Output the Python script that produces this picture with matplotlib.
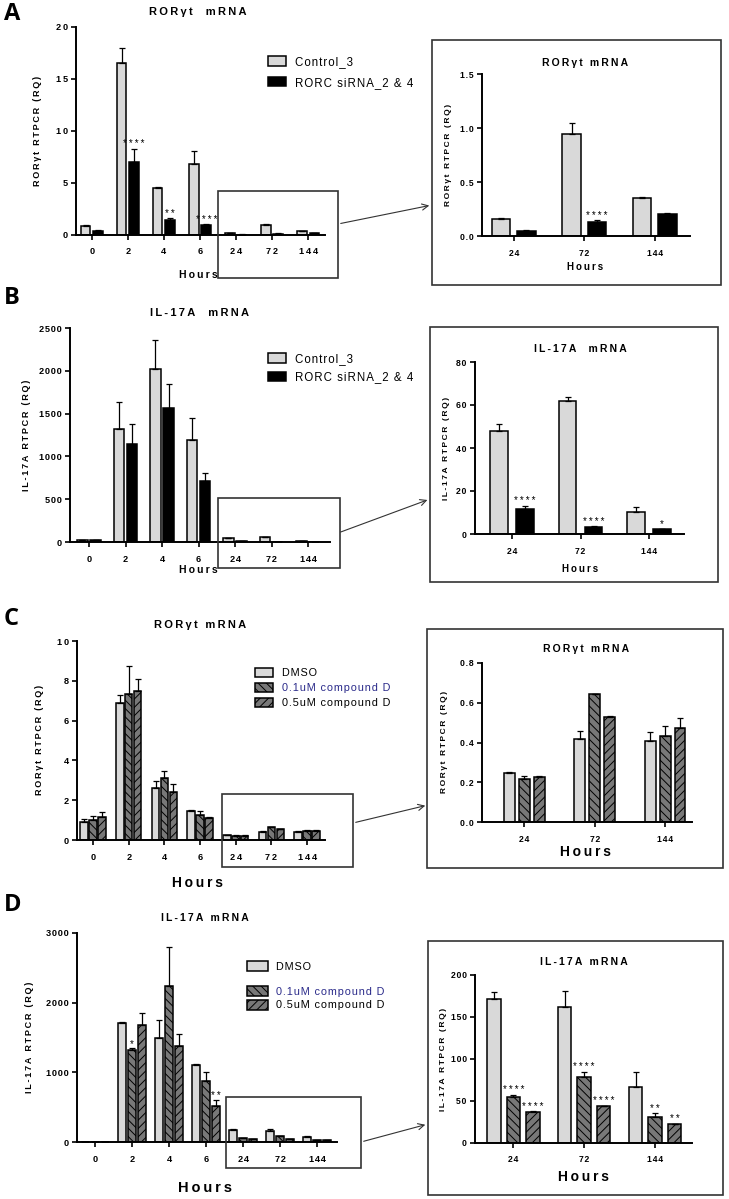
import matplotlib
matplotlib.use("Agg")
import matplotlib.pyplot as plt
import numpy as np
from matplotlib.patches import Rectangle, FancyArrowPatch

# data
hours = ['0', '2', '4', '6', '24', '72', '144']

a_ctrl = [0.85, 16.5, 4.5, 6.8, 0.16, 0.94, 0.355]
a_ctrl_err = [0.08, 1.5, 0.08, 1.3, 0.003, 0.11, 0.01]
a_sirna = [0.42, 7.0, 1.45, 1.0, 0.048, 0.13, 0.205]
a_sirna_err = [0.03, 1.3, 0.15, 0.05, 0.004, 0.015, 0.01]
a_stars = ['', '****', '**', '****', '', '****', '']

b_ctrl = [20, 1320, 2020, 1190, 48, 62, 10.2]
b_ctrl_err = [3, 320, 340, 260, 3.2, 1.6, 2.5]
b_sirna = [22, 1140, 1560, 710, 11.5, 3.3, 2.3]
b_sirna_err = [3, 235, 280, 100, 1.7, 0.3, 0.2]
b_stars = ['', '', '', '', '****', '****', '*']

c_dmso = [0.88, 6.9, 2.63, 1.46, 0.247, 0.42, 0.408]
c_dmso_err = [0.2, 0.4, 0.35, 0.07, 0.003, 0.04, 0.045]
c_low = [1.0, 7.32, 3.12, 1.24, 0.215, 0.643, 0.433]
c_low_err = [0.2, 1.43, 0.37, 0.2, 0.015, 0.003, 0.052]
c_high = [1.18, 7.5, 2.42, 1.12, 0.226, 0.528, 0.475]
c_high_err = [0.22, 0.6, 0.38, 0.03, 0.004, 0.003, 0.048]

d_dmso = [5, 1715, 1500, 1105, 171, 162, 67]
d_dmso_err = [1, 5, 250, 10, 9, 19, 18]
d_low = [3, 1320, 2245, 875, 55, 79, 31]
d_low_err = [1, 25, 550, 125, 2.5, 6, 4.5]
d_high = [4, 1680, 1385, 515, 37, 44, 22.5]
d_high_err = [1, 165, 160, 85, 0.6, 0.5, 0.5]
d_low_stars = ['', '*', '', '', '****', '****', '**']
d_high_stars = ['', '', '', '**', '****', '****', '**']
no_stars = [''] * 7

a_yticks = [0, 5, 10, 15, 20]
a_in_yticks = [0.0, 0.5, 1.0, 1.5]
b_yticks = [0, 500, 1000, 1500, 2000, 2500]
b_in_yticks = [0, 20, 40, 60, 80]
c_yticks = [0, 2, 4, 6, 8, 10]
c_in_yticks = [0.0, 0.2, 0.4, 0.6, 0.8]
d_yticks = [0, 1000, 2000, 3000]
d_in_yticks = [0, 50, 100, 150, 200]

W, H = 729, 1199
plt.rcParams['font.family'] = ['Liberation Sans', 'DejaVu Sans']
plt.rcParams['hatch.linewidth'] = 0.7

fig = plt.figure(figsize=(W / 100, H / 100), dpi=100)

THIN = '\u2009'
HAIR = '\u200a'


def sp(s, ch=THIN):
    # GraphPad style letter spacing
    return ch.join(s)


def px_ax(x0, y0, x1, y1):
    return fig.add_axes([x0 / W, 1 - y1 / H, (x1 - x0) / W, (y1 - y0) / H])


def ftext(x, y, s, **kw):
    kw.setdefault('ha', 'center')
    kw.setdefault('va', 'center')
    fig.text(x / W, 1 - y / H, s, **kw)


def frame(x0, y0, x1, y1):
    fig.add_artist(Rectangle((x0 / W, 1 - y1 / H), (x1 - x0) / W, (y1 - y0) / H,
                             transform=fig.transFigure, fill=False, lw=1.2, ec='#333333'))


def arrow(x0, y0, x1, y1):
    fig.add_artist(FancyArrowPatch((x0 / W, 1 - y0 / H), (x1 / W, 1 - y1 / H),
                                   transform=fig.transFigure, arrowstyle='->',
                                   mutation_scale=11, lw=0.8, color='#333333'))


ctrl_st = dict(color='#d9d9d9', edgecolor='black', linewidth=1.1)
sirna_st = dict(color='black', edgecolor='black', linewidth=1.1)
low_st = dict(color='#787878', edgecolor='black', linewidth=1.1, hatch='\\\\\\\\')
high_st = dict(color='#787878', edgecolor='black', linewidth=1.1, hatch='////')


def panel(ax, idx, series, errs, stars, styles, width, offsets, xlim, yticks, yfmt,
          tsize=6.6, tsp=THIN):
    x = np.arange(len(idx))
    conts = []
    for vals, err, st_list, st, off in zip(series, errs, stars, styles, offsets):
        v = np.array(vals, dtype=float)[idx]
        e = np.array(err, dtype=float)[idx]
        b = ax.bar(x + off, v, width, zorder=2, **st)
        ax.errorbar(x + off, v, yerr=[np.zeros_like(e), e], fmt='none', ecolor='black',
                    elinewidth=0.9, capsize=2.5, capthick=0.9, zorder=3)
        for xi, top, s in zip(x + off, v + e, np.array(st_list)[idx]):
            if s:
                ax.annotate(sp(s), (xi, top), xytext=(0, 1.0), textcoords='offset points',
                            ha='center', va='baseline', fontsize=7, clip_on=False)
        conts.append(b)
    ax.set_xlim(*xlim)
    ax.set_ylim(0, yticks[-1])
    ax.set_yticks(yticks, [sp(yfmt % t, tsp) for t in yticks], fontsize=tsize, fontweight='bold')
    ax.set_xticks(x, [sp(hours[i], tsp) for i in idx], fontsize=tsize, fontweight='bold')
    for s in ['top', 'right']:
        ax.spines[s].set_visible(False)
    for s in ['left', 'bottom']:
        ax.spines[s].set_linewidth(1.4)
    ax.tick_params(axis='both', direction='out', length=3.5, width=1.2)
    ax.tick_params(axis='x', pad=5.5)
    ax.tick_params(axis='y', pad=2.5)
    ax.patch.set_alpha(0)
    return conts


main_idx = [0, 1, 2, 3, 4, 5, 6]
in_idx = [4, 5, 6]
sirna_labels = ['Control_3', 'RORC siRNA_2 & 4']
comp_labels = ['DMSO', '0.1uM compound D', '0.5uM compound D']

# ---------------- A ----------------
ax = px_ax(76, 27, 325, 235)
conts = panel(ax, main_idx, [a_ctrl, a_sirna], [a_ctrl_err, a_sirna_err],
              [no_stars, a_stars[:4] + ['', '', '']], [ctrl_st, sirna_st],
              0.27, [-0.175, 0.175], (-0.44, 6.47), a_yticks, '%d')
ax.legend(conts, [sp(l, HAIR) for l in sirna_labels], loc='upper left',
          bbox_to_anchor=(268 / W, 1 - 56 / H), bbox_transform=fig.transFigure,
          frameon=False, fontsize=8.3, handlelength=1.6, handleheight=0.9,
          handletextpad=0.7, labelspacing=0.75, borderpad=0, borderaxespad=0)
ftext(198, 12, sp('RORγt  mRNA'), fontsize=8, fontweight='bold')
ftext(38, 131, sp('RORγt RTPCR (RQ)'), fontsize=6.5, fontweight='bold', rotation=90)
ftext(198, 275, sp('Hours'), fontsize=7.5, fontweight='bold')
ftext(4, 14, 'A', fontsize=17, fontweight='bold', ha='left', family='Open Sans')
frame(218, 191, 338, 278)
arrow(338, 224, 432, 205)

frame(432, 40, 721, 285)
ax = px_ax(482, 74, 690, 236)
panel(ax, in_idx, [a_ctrl, a_sirna], [a_ctrl_err, a_sirna_err],
      [no_stars, a_stars], [ctrl_st, sirna_st],
      0.26, [-0.18, 0.18], (-0.45, 2.5), a_in_yticks, '%.1f', tsize=6.2, tsp=HAIR)
ftext(585, 63, sp('RORγt mRNA'), fontsize=7.5, fontweight='bold')
ftext(449, 155, sp('RORγt RTPCR (RQ)'), fontsize=6, fontweight='bold', rotation=90)
ftext(585, 267, sp('Hours'), fontsize=7, fontweight='bold')

# ---------------- B ----------------
ax = px_ax(70, 328, 330, 542)
conts = panel(ax, main_idx, [b_ctrl, b_sirna], [b_ctrl_err, b_sirna_err],
              [no_stars, no_stars], [ctrl_st, sirna_st],
              0.29, [-0.18, 0.18], (-0.52, 6.6), b_yticks, '%d', tsp=HAIR)
ax.legend(conts, [sp(l, HAIR) for l in sirna_labels], loc='upper left',
          bbox_to_anchor=(268 / W, 1 - 353 / H), bbox_transform=fig.transFigure,
          frameon=False, fontsize=8.3, handlelength=1.6, handleheight=0.9,
          handletextpad=0.7, labelspacing=0.55, borderpad=0, borderaxespad=0)
ftext(200, 313, sp('IL-17A  mRNA'), fontsize=8, fontweight='bold')
ftext(27, 435, sp('IL-17A RTPCR (RQ)'), fontsize=6.5, fontweight='bold', rotation=90)
ftext(198, 570, sp('Hours'), fontsize=7.5, fontweight='bold')
ftext(4, 298, 'B', fontsize=17, fontweight='bold', ha='left', family='Open Sans')
frame(218, 498, 340, 568)
arrow(338, 533, 430, 499)

frame(430, 327, 718, 582)
ax = px_ax(475, 362, 684, 534)
panel(ax, in_idx, [b_ctrl, b_sirna], [b_ctrl_err, b_sirna_err],
      [no_stars, b_stars], [ctrl_st, sirna_st],
      0.26, [-0.19, 0.19], (-0.54, 2.51), b_in_yticks, '%d', tsize=6.2, tsp=HAIR)
ftext(580, 349, sp('IL-17A  mRNA'), fontsize=7.5, fontweight='bold')
ftext(446, 448, sp('IL-17A RTPCR (RQ)'), fontsize=6, fontweight='bold', rotation=90)
ftext(580, 569, sp('Hours'), fontsize=7, fontweight='bold')

# ---------------- C ----------------
ax = px_ax(77, 641, 325, 840)
conts = panel(ax, main_idx, [c_dmso, c_low, c_high], [c_dmso_err, c_low_err, c_high_err],
              [no_stars] * 3, [ctrl_st, low_st, high_st],
              0.21, [-0.25, 0, 0.25], (-0.45, 6.5), c_yticks, '%d')
leg = ax.legend(conts, [sp(l, HAIR) for l in comp_labels], loc='upper left',
                bbox_to_anchor=(255 / W, 1 - 668 / H), bbox_transform=fig.transFigure,
                frameon=False, fontsize=7.8, handlelength=1.7, handleheight=0.9,
                handletextpad=0.8, labelspacing=0.42, borderpad=0, borderaxespad=0)
leg.get_texts()[1].set_color('#2a2a8a')
ftext(200, 625, sp('RORγt mRNA'), fontsize=8, fontweight='bold')
ftext(39, 740, sp('RORγt RTPCR (RQ)'), fontsize=6.5, fontweight='bold', rotation=90)
ftext(198, 883, sp('Hours'), fontsize=10, fontweight='bold')
ftext(4, 619, 'C', fontsize=17, fontweight='bold', ha='left', family='Open Sans')
frame(222, 794, 353, 867)
arrow(353, 823, 428, 805)

frame(427, 629, 723, 868)
ax = px_ax(482, 663, 692, 822)
panel(ax, in_idx, [c_dmso, c_low, c_high], [c_dmso_err, c_low_err, c_high_err],
      [no_stars] * 3, [ctrl_st, low_st, high_st],
      0.155, [-0.21, 0, 0.21], (-0.6, 2.38), c_in_yticks, '%.1f', tsize=6.2, tsp=HAIR)
ftext(586, 649, sp('RORγt mRNA'), fontsize=7.5, fontweight='bold')
ftext(444, 742, sp('RORγt RTPCR (RQ)'), fontsize=6, fontweight='bold', rotation=90)
ftext(585, 852, sp('Hours'), fontsize=10, fontweight='bold')

# ---------------- D ----------------
ax = px_ax(77, 933, 337, 1142)
conts = panel(ax, main_idx, [d_dmso, d_low, d_high], [d_dmso_err, d_low_err, d_high_err],
              [no_stars, d_low_stars[:4] + ['', '', ''], d_high_stars[:4] + ['', '', '']],
              [ctrl_st, low_st, high_st],
              0.22, [-0.27, 0, 0.27], (-0.49, 6.54), d_yticks, '%d', tsp=HAIR)
leg1 = ax.legend(conts[:1], [sp(comp_labels[0], HAIR)], loc='upper left',
                 bbox_to_anchor=(247 / W, 1 - 961 / H), bbox_transform=fig.transFigure,
                 frameon=False, fontsize=7.8, handlelength=1.9, handleheight=1.0,
                 handletextpad=0.8, borderpad=0, borderaxespad=0)
ax.add_artist(leg1)
leg2 = ax.legend(conts[1:], [sp(l, HAIR) for l in comp_labels[1:]], loc='upper left',
                 bbox_to_anchor=(247 / W, 1 - 986 / H), bbox_transform=fig.transFigure,
                 frameon=False, fontsize=7.8, handlelength=1.9, handleheight=1.0,
                 handletextpad=0.8, labelspacing=0.3, borderpad=0, borderaxespad=0)
leg2.get_texts()[0].set_color('#2a2a8a')
ftext(205, 918, sp('IL-17A mRNA'), fontsize=7.5, fontweight='bold')
ftext(30, 1037, sp('IL-17A RTPCR (RQ)'), fontsize=6.5, fontweight='bold', rotation=90)
ftext(205, 1188, sp('Hours'), fontsize=10.5, fontweight='bold')
ftext(4, 905, 'D', fontsize=17, fontweight='bold', ha='left', family='Open Sans')
frame(226, 1097, 361, 1168)
arrow(361, 1142, 428, 1124)

frame(428, 941, 723, 1195)
ax = px_ax(475, 975, 692, 1143)
panel(ax, in_idx, [d_dmso, d_low, d_high], [d_dmso_err, d_low_err, d_high_err],
      [no_stars, d_low_stars, d_high_stars], [ctrl_st, low_st, high_st],
      0.19, [-0.275, 0, 0.275], (-0.54, 2.52), d_in_yticks, '%d', tsize=6.2, tsp=HAIR)
ftext(584, 962, sp('IL-17A mRNA'), fontsize=7.5, fontweight='bold')
ftext(443, 1059, sp('IL-17A RTPCR (RQ)'), fontsize=6, fontweight='bold', rotation=90)
ftext(584, 1177, sp('Hours'), fontsize=10, fontweight='bold')

fig.savefig('out.png', dpi=100)
